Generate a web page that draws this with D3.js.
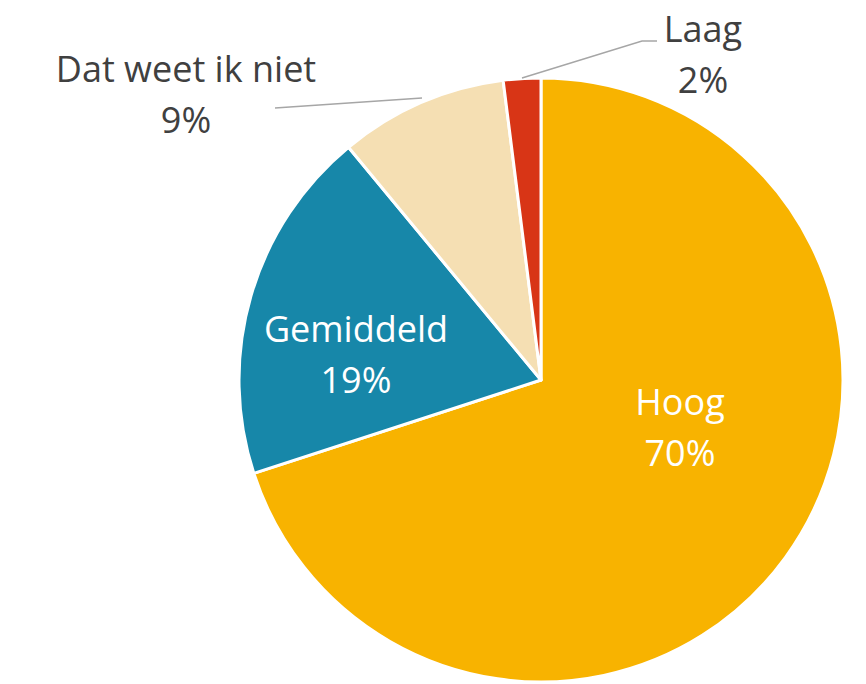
<!DOCTYPE html>
<html>
<head>
<meta charset="utf-8">
<script src="https://cdn.jsdelivr.net/npm/d3@7"></script>
<style>
  body { margin: 0; background: #fff; }
  svg text { font-family: "Open Sans", Lato, sans-serif; }
</style>
</head>
<body>
<svg id="chart" width="866" height="684"></svg>
<script>
// chart data
const categories = ['Hoog', 'Gemiddeld', 'Dat weet ik niet', 'Laag'];
const values = [70, 19, 9, 2];
const colors = ['#f8b300', '#1787a9', '#f5dfb3', '#d83516'];

const cx = 541, cy = 380, radius = 302;

// label anchor (baseline of first line) and leader lines, per category
const labelPos = {
  'Hoog': { x: 680, y: 415, fill: '#fff' },
  'Gemiddeld': { x: 356, y: 342, fill: '#fff' },
  'Dat weet ik niet': { x: 186, y: 82, fill: '#404040', line: [[422, 98], [275, 108]] },
  'Laag': { x: 703, y: 42, fill: '#404040', line: [[522, 78], [642, 41], [657, 41]] },
};

const data = categories.map((c, i) => ({ name: c, value: values[i], color: colors[i] }));

const svg = d3.select('#chart');
const g = svg.append('g').attr('transform', `translate(${cx},${cy})`);

const pie = d3.pie().sort(null).value(d => d.value);
const arc = d3.arc().innerRadius(0).outerRadius(radius);

g.selectAll('path')
  .data(pie(data))
  .enter()
  .append('path')
  .attr('d', arc)
  .attr('fill', d => d.data.color)
  .attr('stroke', '#fff')
  .attr('stroke-width', 3)
  .attr('stroke-linejoin', 'round');

// leader lines
const line = d3.line();
data.forEach(d => {
  const p = labelPos[d.name];
  if (p.line) {
    svg.append('path')
      .attr('d', line(p.line))
      .attr('fill', 'none')
      .attr('stroke', '#a6a6a6')
      .attr('stroke-width', 1.5);
  }
});

// labels
data.forEach(d => {
  const p = labelPos[d.name];
  const t = svg.append('text')
    .attr('text-anchor', 'middle')
    .attr('fill', p.fill)
    .style('font-size', '36px');
  t.append('tspan').attr('x', p.x).attr('y', p.y).text(d.name);
  t.append('tspan').attr('x', p.x).attr('dy', 51).text(d.value + '%');
});
</script>
</body>
</html>
